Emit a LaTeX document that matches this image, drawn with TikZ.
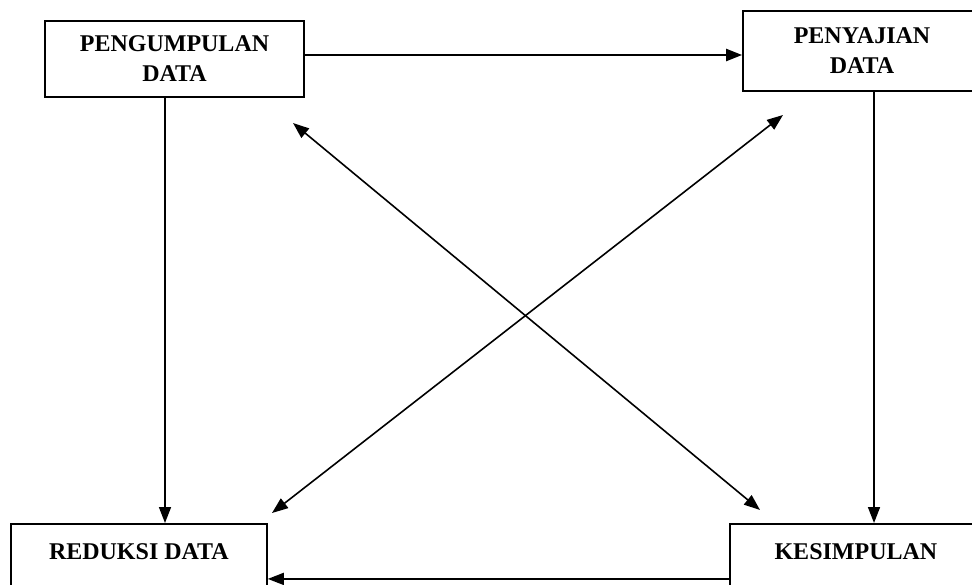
\documentclass[tikz,border=0pt]{standalone}
\usepackage{fontspec}
\setmainfont{Liberation Serif}
\usetikzlibrary{arrows.meta}
\tikzset{
	box/.style = {draw, line width = 0.9pt, align = center, font = \bfseries\fontsize{12}{15}\selectfont},
	flow/.style = {line width = 0.8pt},
	>={Triangle[length = 8pt, width = 6pt]}
}

\begin{document}
\begin{tikzpicture}[x = 0.5pt, y = -0.5pt]%alur analisis
	\useasboundingbox (0,0) rectangle (972,584);
	\clip (0,0) rectangle (972,584);
	\node[box, minimum width = 129.5pt, minimum height = 38pt](KUMPUL) at (174.5,59){PENGUMPULAN\\DATA};
	\node[box, minimum width = 119pt, minimum height = 40pt](SAJI) at (862,51){PENYAJIAN\\DATA};
	\node[box, anchor = north west, minimum width = 128pt, text height = 10pt, text depth = 22pt, inner ysep = 8pt](REDUKSI) at (10,523){REDUKSI DATA};
	\node[box, anchor = north west, minimum width = 126pt, text height = 10pt, text depth = 22pt, inner ysep = 8pt](SIMPUL) at (729,523){KESIMPULAN};
	\coordinate (D1) at (293,123);
	\coordinate (D2) at (760,510);
	\coordinate (D3) at (783,115);
	\coordinate (D4) at (272,513);
	\draw[flow, ->, line width = 1.2pt]
	([yshift = 2pt]KUMPUL.east) -- ([yshift = -2pt]SAJI.west);
	\draw[flow, ->]
	([xshift = -4.75pt]KUMPUL.south) -- ([xshift = -4.75pt]KUMPUL.south |- REDUKSI.north);
	\draw[flow, ->]
	([xshift = 6pt]SAJI.south) -- ([xshift = 6pt]SAJI.south |- SIMPUL.north);
	\draw[flow, ->]
	([yshift = -3.5pt]SIMPUL.west) -- ([yshift = -3.5pt]REDUKSI.east);
	\draw[flow, <->] (D1) -- (D2);
	\draw[flow, <->] (D3) -- (D4);
\end{tikzpicture}
\end{document}
